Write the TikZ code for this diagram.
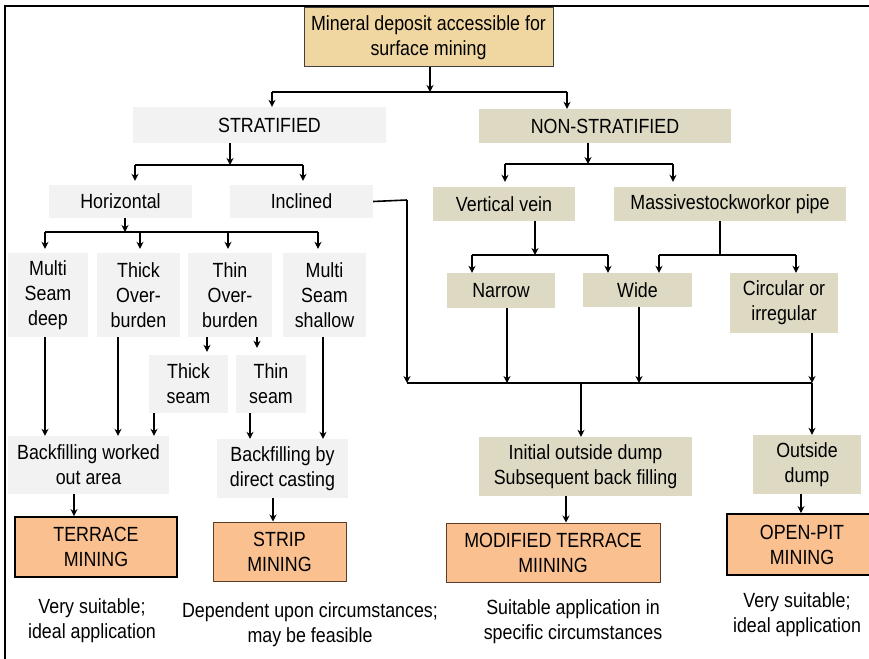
\documentclass[tikz,border=0pt]{standalone}
\usepackage{fontspec}
\setmainfont{Liberation Sans}[FakeStretch=0.87]
\usepackage{tikz}
\usetikzlibrary{arrows.meta,calc}

\definecolor{parch}{RGB}{240,215,162}
\definecolor{sgray}{RGB}{242,242,242}
\definecolor{khaki}{RGB}{221,217,195}
\definecolor{peach}{RGB}{250,192,144}
\definecolor{brownline}{RGB}{90,60,40}

\tikzset{
  every node/.style={inner sep=0pt, align=center, font=\fontsize{20.5}{25}\selectfont},
  sbox/.style={fill=sgray},
  nbox/.style={fill=khaki},
  mbox/.style={fill=peach, draw=black, line width=1.8pt},
  note/.style={},
  arr/.style={line width=1.6pt, -{Stealth[length=7pt,width=7pt]}},
  ln/.style={line width=1.6pt}
}

\begin{document}
\begin{tikzpicture}[x=1pt,y=-1pt]
		\useasboundingbox (0,0) rectangle (869,658);
		\clip (0,0) rectangle (869,658);
		\fill[white] (0,0) rectangle (869,658);
		% frame
		\draw[line width=2.2pt] (5,700) -- (5,6) -- (900,6);
		% top level
		\node[fill=parch, draw=black!75, line width=1pt, minimum width=249pt, minimum height=59pt] (top) at (428.5,37.5) {Mineral deposit accessible for\\surface mining};
		\node[sbox, minimum width=253pt, minimum height=36pt] (strat) at (259.5,125) {\hspace*{20pt}STRATIFIED};
		\node[nbox, minimum width=252pt, minimum height=34pt] (nonstrat) at (605,126) {NON-STRATIFIED};
		% stratified branch
		\node[sbox, minimum width=143pt, minimum height=33pt] (horiz) at (120.5,201.5) {Horizontal};
		\node[sbox, minimum width=143pt, minimum height=33pt] (incl) at (301.5,201.5) {Inclined};
		\node[sbox, minimum width=80pt, minimum height=84pt] (msd) at (48,295) {Multi\\Seam\\deep};
		\node[sbox, minimum width=83pt, minimum height=84pt] (tob) at (138.5,295) {Thick\\Over-\\burden};
		\node[sbox, minimum width=84pt, minimum height=84pt] (tnob) at (230,295) {Thin\\Over-\\burden};
		\node[sbox, minimum width=83pt, minimum height=84pt] (mss) at (324.5,295) {Multi\\Seam\\shallow};
		\node[sbox, minimum width=79pt, minimum height=58pt] (tks) at (188.5,384) {Thick\\seam};
		\node[sbox, minimum width=70pt, minimum height=58pt] (tns) at (271,384) {Thin\\seam};
		\node[sbox, minimum width=161pt, minimum height=58pt] (bwo) at (88.5,465) {Backfilling worked\\out area};
		\node[sbox, minimum width=131pt, minimum height=59pt] (bdc) at (282.5,468.5) {Backfilling by\\direct casting};
		% non-stratified branch
		\node[nbox, minimum width=142pt, minimum height=34pt] (vvein) at (504,204) {Vertical vein};
		\node[nbox, minimum width=232pt, minimum height=34pt] (massive) at (730,204) {Massivestockworkor pipe};
		\node[nbox, minimum width=108pt, minimum height=35pt] (narrow) at (501,290.5) {Narrow};
		\node[nbox, minimum width=109pt, minimum height=34pt] (wide) at (637.5,290) {Wide};
		\node[nbox, minimum width=108pt, minimum height=60pt] (circ) at (784,303) {Circular or\\irregular};
		\node[nbox, minimum width=213pt, minimum height=59pt] (iod) at (585.5,466.5) {Initial outside dump\\Subsequent back filling};
		\node[nbox, minimum width=108pt, minimum height=59pt] (od) at (807,464.5) {Outside\\dump};
		% mining methods
		\node[mbox, minimum width=162pt, minimum height=60pt] (terrace) at (96,547) {TERRACE\\MINING};
		\node[mbox, draw=brownline, line width=1pt, minimum width=133pt, minimum height=59pt] (strip) at (279.5,551.5) {STRIP\\MINING};
		\node[mbox, draw=brownline, line width=1pt, minimum width=214pt, minimum height=59pt] (modter) at (553,552.5) {MODIFIED TERRACE\\MIINING};
		\node[mbox, minimum width=150pt, minimum height=61pt] (openpit) at (802,544.5) {OPEN-PIT\\MINING};
		\node[note] (n1) at (92,620.5) {Very suitable;\\ideal application};
		\node[note] (n2) at (310,625) {Dependent upon circumstances;\\may be feasible};
		\node[note] (n3) at (573,621.5) {Suitable application in\\specific circumstances};
		\node[note] (n4) at (797,614.5) {Very suitable;\\ideal application};
		% bus points
		\coordinate (b1m) at (430,92); \coordinate (b1l) at (272,92); \coordinate (b1r) at (567,92);
		\coordinate (b2m) at (230,165); \coordinate (b2l) at (135,165); \coordinate (b2r) at (303,165);
		\coordinate (b3m) at (125,232); \coordinate (b3l) at (45,232); \coordinate (b3r) at (318,232);
		\coordinate (b3a) at (140,232); \coordinate (b3b) at (228,232);
		\coordinate (b4m) at (588,164); \coordinate (b4l) at (505,164); \coordinate (b4r) at (673,164);
		\coordinate (b5m) at (535,255); \coordinate (b5l) at (472,255); \coordinate (b5r) at (608,255);
		\coordinate (b6m) at (720,255); \coordinate (b6l) at (659,255); \coordinate (b6r) at (796,255);
		\coordinate (ib) at (407,200); \coordinate (bl) at (407,383); \coordinate (br) at (812,383);
		\coordinate (bx) at (581,383);
		% connectors, stratified
		\draw[arr] (b1m |- top.south) -- (b1m);
		\draw[ln] (b1l) -- (b1r);
		\draw[arr] (b1l) -- (b1l |- strat.north);
		\draw[arr] (b1r) -- (b1r |- nonstrat.north);
		\draw[arr] (b2m |- strat.south) -- (b2m);
		\draw[ln] (b2l) -- (b2r);
		\draw[arr] (b2l) -- ($(b2l |- horiz.north)+(0,-4)$);
		\draw[arr] (b2r) -- ($(b2r |- incl.north)+(0,-4)$);
		\draw[arr] (b3m |- horiz.south) -- (b3m);
		\draw[ln] (b3l) -- (b3r);
		\foreach \p in {b3l,b3a,b3b,b3r}
		  \draw[arr] (\p) -- ($(\p |- msd.north)+(0,-4)$);
		\draw[ln] (incl.east) -- (ib);
		\draw[arr] (ib) -- (bl);
		\draw[arr] (207,0 |- tnob.south) -- ($(207,0 |- tks.north)+(0,-3)$);
		\draw[arr] (257,0 |- tnob.south) -- ($(257,0 |- tns.north)+(0,-7)$);
		\draw[arr] (45,0 |- msd.south) -- (45,0 |- bwo.north);
		\draw[arr] (118,0 |- tob.south) -- (118,0 |- bwo.north);
		\draw[arr] (154,0 |- tks.south) -- (154,0 |- bwo.north);
		\draw[arr] (250,0 |- tns.south) -- (250,0 |- bdc.north);
		\draw[arr] (323,0 |- mss.south) -- (323,0 |- bdc.north);
		\draw[arr] (74,0 |- bwo.south) -- (74,0 |- terrace.north);
		\draw[arr] (273,0 |- bdc.south) -- (273,0 |- strip.north);
		% connectors, non-stratified
		\draw[arr] (b4m |- nonstrat.south) -- (b4m);
		\draw[ln] (b4l) -- (b4r);
		\draw[arr] (b4l) -- ($(b4l |- vvein.north)+(0,-5)$);
		\draw[arr] (b4r) -- ($(b4r |- massive.north)+(0,-5)$);
		\draw[arr] (b5m |- vvein.south) -- (b5m);
		\draw[ln] (b5l) -- (b5r);
		\draw[arr] (b5l) -- (b5l |- narrow.north);
		\draw[arr] (b5r) -- (b5r |- wide.north);
		\draw[ln] (b6m |- massive.south) -- (b6m);
		\draw[ln] (b6l) -- (b6r);
		\draw[arr] (b6l) -- (b6l |- wide.north);
		\draw[arr] (b6r) -- (b6r |- circ.north);
		\draw[arr] (507,0 |- narrow.south) -- (507,0 |- br);
		\draw[arr] (639,0 |- wide.south) -- (639,0 |- br);
		\draw[arr] (br |- circ.south) -- (br);
		\draw[ln] (bl) -- (br);
		\draw[arr] (bx) -- (bx |- iod.north);
		\draw[arr] (br) -- (br |- od.north);
		\draw[arr] (566,0 |- iod.south) -- (566,0 |- modter.north);
		\draw[arr] (801,0 |- od.south) -- (801,0 |- openpit.north);
		\end{tikzpicture}
\end{document}
